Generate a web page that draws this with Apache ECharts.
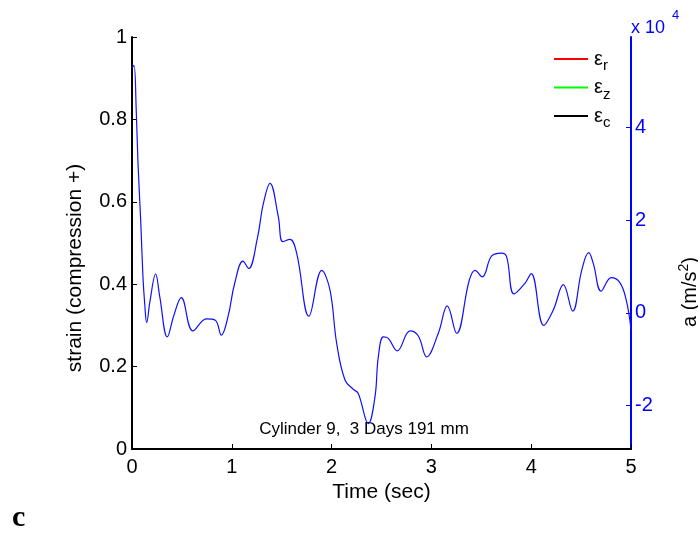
<!DOCTYPE html>
<html><head><meta charset="utf-8">
<script src="https://cdn.jsdelivr.net/npm/echarts@6/dist/echarts.min.js"></script>
<style>html,body{margin:0;padding:0;background:#fff}#c{width:698px;height:535px}</style>
</head><body><div id="c"></div>
<script>
// Time (sec)
const timeSec = [0,0.02,0.043,0.06,0.087,0.11,0.127,0.147,0.18,0.237,0.278,0.354,0.42,0.494,0.611,0.745,0.835,0.895,0.962,
  1.029,1.112,1.169,1.256,1.316,1.383,1.466,1.51,1.583,1.65,1.773,1.901,1.984,
  2.051,2.134,2.217,2.267,2.368,2.435,2.468,2.518,2.568,2.658,2.786,2.869,2.953,
  3.069,3.159,3.253,3.38,3.437,3.51,3.604,3.704,3.754,3.828,3.938,
  4.0,4.126,4.221,4.322,4.416,4.506,4.576,4.622,4.701,4.802,4.89,4.952,5.0];
// acceleration a (x10^4 m/s^2)
const accel = [5.29,5.35,4.34,3.24,2.0,0.77,0.21,-0.21,0.25,0.84,0.35,-0.52,-0.05,0.33,-0.39,-0.13,-0.16,-0.48,-0.08,
  0.64,1.12,0.96,1.61,2.36,2.80,2.08,1.54,1.59,1.29,-0.07,0.92,0.49,
  -0.66,-1.45,-1.65,-1.74,-2.39,-1.81,-0.95,-0.52,-0.55,-0.82,-0.39,-0.50,-0.95,
  -0.44,0.15,-0.44,0.71,0.92,0.78,1.23,1.29,1.21,0.41,0.64,
  0.85,-0.27,0.06,0.61,0.04,0.92,1.30,1.07,0.47,0.76,0.65,0.28,-0.35];
// strain series (not visible in the plot)
const strainR = [];
const strainZ = [];
const strainC = [];
const seriesNames = ['εr','εz','εc'];
const subscripts = {'εr':'r','εz':'z','εc':'c'};

const FONT = '"Liberation Sans", Arial, sans-serif';
const chart = echarts.init(document.getElementById('c'), null, {renderer:'canvas'});
const accelPairs = timeSec.map((t,i)=>[t, accel[i]]);

chart.setOption({
  animation:false,
  backgroundColor:'#fff',
  grid:{left:132, right:67, top:37, bottom:86, containLabel:false, outerBoundsMode:'none'},
  legend:{
    orient:'vertical', left:549, top:44, itemWidth:34, itemHeight:2, itemGap:4, icon:'rect',
    data:seriesNames,
    formatter:(n)=>'{e|ε}{s|'+subscripts[n]+'}',
    textStyle:{padding:[0,0,0,1], rich:{
      e:{fontFamily:FONT, fontSize:20, color:'#000'},
      s:{fontFamily:FONT, fontSize:15, color:'#000', padding:[14,0,0,0]}
    }}
  },
  xAxis:{
    type:'value', min:0, max:5, interval:1,
    axisLine:{lineStyle:{color:'#000', width:2}},
    axisTick:{inside:true, length:5, lineStyle:{color:'#000', width:1}},
    axisLabel:{fontFamily:FONT, fontSize:20, color:'#000', margin:8},
    splitLine:{show:false},
    name:'Time (sec)', nameLocation:'middle', nameGap:29,
    nameTextStyle:{fontFamily:FONT, fontSize:21, color:'#000'}
  },
  yAxis:[{
    type:'value', min:0, max:1, interval:0.2, position:'left',
    axisLine:{show:true, lineStyle:{color:'#000', width:2}},
    axisTick:{show:true, inside:true, length:5, lineStyle:{color:'#000', width:1}},
    axisLabel:{fontFamily:FONT, fontSize:20, color:'#000', margin:5},
    splitLine:{show:false}
  },{
    type:'value', min:-2.94, max:5.96, splitNumber:4, position:'right',
    axisLine:{show:true, lineStyle:{color:'#0000ff', width:2}},
    axisTick:{show:true, inside:true, length:5, lineStyle:{color:'#0000ff', width:1}},
    axisLabel:{fontFamily:FONT, fontSize:20, color:'#0000ff', margin:4, showMinLabel:false, showMaxLabel:false},
    splitLine:{show:false}
  }],
  series:[
    {name:'εr', type:'line', yAxisIndex:0, data:strainR, showSymbol:false, lineStyle:{color:'#ff0000', width:1.5}, itemStyle:{color:'#ff0000'}},
    {name:'εz', type:'line', yAxisIndex:0, data:strainZ, showSymbol:false, lineStyle:{color:'#00ff00', width:1.5}, itemStyle:{color:'#00ff00'}},
    {name:'εc', type:'line', yAxisIndex:0, data:strainC, showSymbol:false, lineStyle:{color:'#000000', width:1.5}, itemStyle:{color:'#000000'}},
    {name:'a', type:'line', yAxisIndex:1, data:accelPairs, showSymbol:false, smooth:0.4,
     lineStyle:{color:'#1010ff', width:1.2}, itemStyle:{color:'#1010ff'}}
  ],
  graphic:[
    {type:'text', x:75, y:268, rotation:Math.PI/2, style:{text:'strain (compression +)', fontFamily:FONT, fontSize:21, fill:'#000', textAlign:'center', textVerticalAlign:'middle'}},
    {type:'text', x:690, y:292, rotation:Math.PI/2, style:{text:'{n|a (m/s}{p|2}{n|)}', textAlign:'center', textVerticalAlign:'middle', rich:{
      n:{fontFamily:FONT, fontSize:20, fill:'#000'},
      p:{fontFamily:FONT, fontSize:14, fill:'#000', padding:[0,0,12,0]}
    }}},
    {type:'text', left:631, top:19, style:{text:'x 10', fontFamily:FONT, fontSize:18, fill:'#0000ff'}},
    {type:'text', left:672, top:9, style:{text:'4', fontFamily:FONT, fontSize:13, fill:'#0000ff'}},
    {type:'text', x:364, y:429, style:{text:'Cylinder 9,  3 Days 191 mm', fontFamily:FONT, fontSize:17, fill:'#000', textAlign:'center', textVerticalAlign:'middle'}},
    {type:'text', left:12, top:503, style:{text:'c', fontFamily:'"Liberation Serif", "Times New Roman", serif', fontWeight:'bold', fontSize:30, fill:'#000'}}
  ]
});
</script></body></html>
